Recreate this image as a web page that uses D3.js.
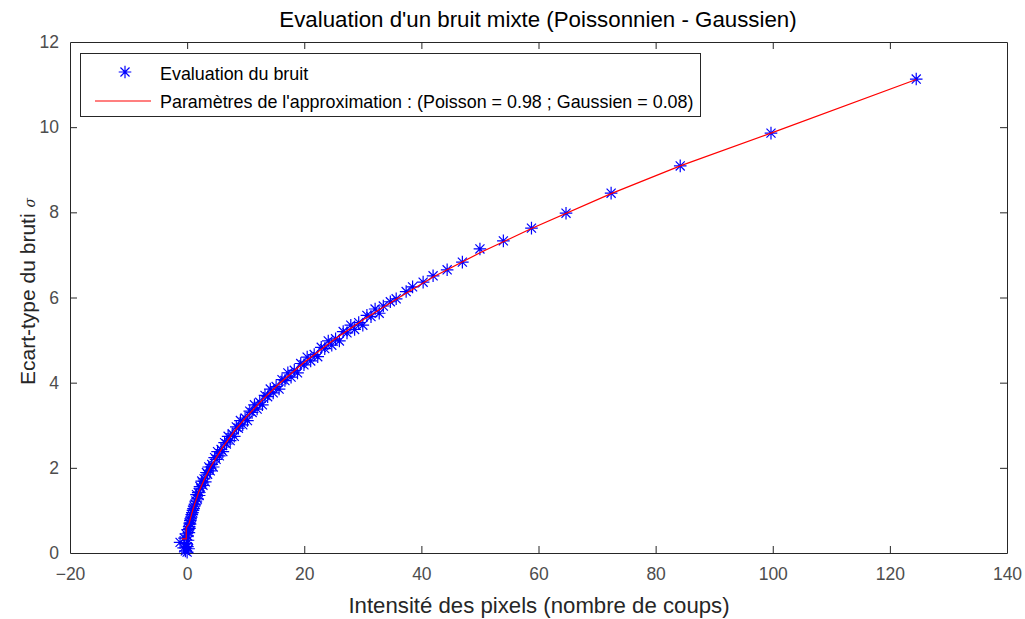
<!DOCTYPE html>
<html>
<head>
<meta charset="utf-8">
<script src="https://cdn.jsdelivr.net/npm/d3@7"></script>
<style>
  body { margin: 0; background: #fff; }
  svg { display: block; font-family: "Liberation Sans", Arial, sans-serif; }
</style>
</head>
<body>
<svg id="chart" width="1025" height="619"></svg>
<script>
// ---- data ----
const titleText = "Evaluation d'un bruit mixte (Poissonnien - Gaussien)";
const xLabelText = "Intensité des pixels (nombre de coups)";
const yLabelText = "Ecart-type du bruti ";
const legendLabels = ["Evaluation du bruit", "Paramètres de l'approximation : (Poisson = 0.98 ; Gaussien = 0.08)"];
const xTicks = [-20, 0, 20, 40, 60, 80, 100, 120, 140];
const yTicks = [0, 2, 4, 6, 8, 10, 12];

// measured noise points: intensity and sigma
const intensity = [
  -1.2, -0.6, -0.45, -0.3, -0.2, -0.1, 0.0, 0.05, 0.1, 0.15, 0.2, 0.25, 0.3, 0.35, 0.4, 0.45, 0.5, 0.55, 0.6, 0.7, 0.8, 0.9, 1.0, 1.1, 1.2, 1.35, 1.5,
  1.6, 1.75, 1.9, 2.05, 2.2, 2.35, 2.5, 2.7, 2.9, 3.1, 3.3, 3.5, 3.7, 3.95, 4.2, 4.45, 4.7, 4.95, 5.2, 5.5, 5.8, 6.1, 6.4, 6.7,
  7.0, 7.35, 7.7, 8.05, 8.4, 8.75, 9.1, 9.5, 9.9, 10.3, 10.7, 11.1, 11.5, 11.95, 12.4, 12.85, 13.3, 13.75, 14.2, 14.7, 15.2, 15.7,
  16.2, 16.7, 17.2, 17.75, 18.3, 18.85, 19.4, 19.95, 20.5, 21.1, 21.7, 22.3, 22.9, 23.5, 24.1, 24.7, 25.35, 26.0, 26.65, 27.3,
  27.95, 28.6, 29.3, 30.0, 30.7, 31.4, 32.1, 32.8,
  33.5, 34.7, 35.7, 37.4, 38.5, 40.3, 42.0, 44.4, 47.0, 50.0, 54.0, 58.8, 64.7, 72.4, 84.2, 99.7, 124.5
];
const sigma = [
  0.25, 0.12, 0.35, 0.05, 0.45, 0.22, 0.02, 0.15, 0.40, 0.30, 0.55, 0.10, 0.48, 0.62, 0.58, 0.70, 0.68, 0.76, 0.80, 0.84, 0.90, 0.95, 1.00, 1.04, 1.10, 1.15, 1.22,
  1.37, 1.27, 1.42, 1.35, 1.56, 1.52, 1.69, 1.59, 1.74, 1.67, 1.89, 1.85, 2.02, 1.93, 2.08, 2.02, 2.24, 2.20, 2.38, 2.28, 2.43, 2.38, 2.59, 2.56,
  2.74, 2.64, 2.80, 2.74, 2.96, 2.93, 3.11, 3.01, 3.17, 3.11, 3.33, 3.30, 3.48, 3.38, 3.54, 3.48, 3.70, 3.67, 3.85, 3.76, 3.91, 3.85,
  4.07, 4.05, 4.23, 4.13, 4.29, 4.23, 4.45, 4.42, 4.60, 4.51, 4.66, 4.61, 4.83, 4.80, 4.98, 4.88, 5.03, 4.98, 5.20, 5.17,
  5.35, 5.25, 5.41, 5.35, 5.58, 5.55, 5.73, 5.63,
  5.80, 5.90, 5.97, 6.14, 6.25, 6.36, 6.51, 6.65, 6.83, 7.14, 7.33, 7.63, 7.98, 8.45, 9.09, 9.86, 11.13
];

// approximation curve (red line)
const fitIntensity = [-0.9, -0.15, -0.15, 0.3, 1, 2, 3, 4, 6, 8, 10, 13, 16, 20, 25, 30, 35.7, 42.0, 50.0, 58.8, 72.4, 84.2, 99.7, 124.5];
const fitSigma = [0.33, 0.33, 0.6, 0.68, 1.03, 1.44, 1.75, 2.02, 2.47, 2.85, 3.18, 3.62, 4.01, 4.48, 5.0, 5.47, 5.96, 6.48, 7.05, 7.62, 8.44, 9.09, 9.86, 11.12];

// ---- layout ----
const svg = d3.select("#chart");
const L = 70, R = 1007, T = 42, B = 553;
const axisColor = "#262626";
const x = d3.scaleLinear().domain([-20, 140]).range([L, R]);
const y = d3.scaleLinear().domain([0, 12]).range([B, T]);

// axes
const fmt = d3.format("d");
const gx = svg.append("g").attr("transform", `translate(0,${B})`)
  .call(d3.axisBottom(x).tickValues(xTicks).tickFormat(fmt).tickSizeInner(-7).tickSizeOuter(0).tickPadding(17));
const gxTop = svg.append("g").attr("transform", `translate(0,${T})`)
  .call(d3.axisTop(x).tickValues(xTicks).tickFormat("").tickSizeInner(-7).tickSizeOuter(0));
const gy = svg.append("g").attr("transform", `translate(${L},0)`)
  .call(d3.axisLeft(y).tickValues(yTicks).tickFormat(fmt).tickSizeInner(-7).tickSizeOuter(0).tickPadding(11));
const gyR = svg.append("g").attr("transform", `translate(${R},0)`)
  .call(d3.axisRight(y).tickValues(yTicks).tickFormat("").tickSizeInner(-7).tickSizeOuter(0));

[gx, gxTop, gy, gyR].forEach(g => {
  g.select(".domain").attr("stroke", axisColor).attr("stroke-width", 1);
  g.selectAll(".tick line").attr("stroke", axisColor);
  g.selectAll(".tick text").attr("fill", "#4d4d4d").attr("font-size", 17.5)
    .attr("font-family", "'Liberation Sans', Arial, sans-serif");
});
gx.selectAll(".tick text").attr("dy", "0.55em");
// no ticks on the box corners
gx.selectAll(".tick").filter(d => d === -20 || d === 140).select("line").remove();
gxTop.selectAll(".tick").filter(d => d === -20 || d === 140).select("line").remove();
gy.selectAll(".tick").filter(d => d === 0 || d === 12).select("line").remove();
gyR.selectAll(".tick").filter(d => d === 0 || d === 12).select("line").remove();

// data layer
const dataG = svg.append("g");
const pts = intensity.map((v, i) => [v, sigma[i]]);

function star(g, cx, cy, r) {
  const d = r * 0.72;
  const p = `M${cx - r},${cy}L${cx + r},${cy}M${cx},${cy - r}L${cx},${cy + r}` +
            `M${cx - d},${cy - d}L${cx + d},${cy + d}M${cx - d},${cy + d}L${cx + d},${cy - d}`;
  g.append("path").attr("d", p).attr("stroke", "#0000ff").attr("stroke-width", 1.2).attr("fill", "none");
}
pts.forEach(p => star(dataG, x(p[0]), y(p[1]), 6.3));

const line = d3.line().x(d => x(d[0])).y(d => y(d[1]));
dataG.append("path")
  .datum(fitIntensity.map((v, i) => [v, fitSigma[i]]))
  .attr("d", line).attr("fill", "none").attr("stroke", "#ff0000").attr("stroke-width", 1.2);

// title
svg.append("text").attr("x", 538).attr("y", 27).attr("text-anchor", "middle")
  .attr("font-size", 22.3).attr("fill", "#000").text(titleText);

// x label
svg.append("text").attr("x", 539).attr("y", 613).attr("text-anchor", "middle")
  .attr("font-size", 22.2).attr("fill", "#262626").text(xLabelText);

// y label
const yl = svg.append("text").attr("transform", `translate(35,${(T + B) / 2 - 6}) rotate(-90)`)
  .attr("text-anchor", "middle").attr("font-size", 21).attr("fill", "#262626");
yl.append("tspan").text(yLabelText);
yl.append("tspan").attr("font-style", "italic").attr("font-family", "'DejaVu Serif', serif")
  .attr("font-size", 14).text("σ");

// legend
const lg = svg.append("g");
lg.append("rect").attr("x", 80.5).attr("y", 53.5).attr("width", 620).attr("height", 63)
  .attr("fill", "#fff").attr("stroke", axisColor).attr("stroke-width", 1);
star(lg, 125, 72, 6.3);
lg.append("line").attr("x1", 95).attr("x2", 151).attr("y1", 101).attr("y2", 101)
  .attr("stroke", "#ff0000").attr("stroke-width", 1.2);
lg.selectAll("text.lt").data(legendLabels).enter().append("text")
  .attr("class", "lt").attr("x", 160).attr("y", (d, i) => 79.5 + i * 28)
  .attr("font-size", 17.9).attr("fill", "#000").text(d => d);
</script>
</body>
</html>
